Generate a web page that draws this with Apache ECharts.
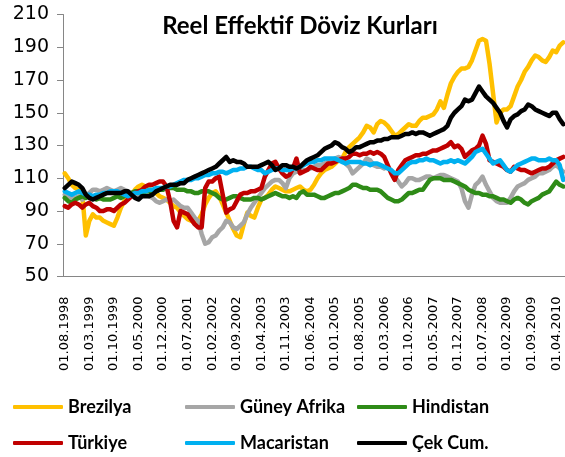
<!DOCTYPE html>
<html lang="tr">
  <head>
    <meta charset="UTF-8" />
    <title>Reel Effektif Döviz Kurları</title>
    <script src="https://cdn.jsdelivr.net/npm/echarts@6.0.0/dist/echarts.min.js"></script>
    <style>
      html, body { margin: 0; padding: 0; background: #fff; }
    </style>
  </head>

  <body>
    <div id="main" style="width: 565px; height: 457px"></div>

    <script type="text/javascript">
      // monthly series, 08.1998 - 06.2010
      const startYear = 1998;
      const startMonth = 8;

      const brezilya = [
        113,110,106,104,103,100,75,84,88,86,
        86,84,83,82,81,86,92,96,98,100,
        103,105,106,105,104,102,101,99,98,97,
        95,93,92,89,87,85,84,83,84,88,
        94,98,101,102,99,94,89,84,79,75,
        74,82,89,87,86,92,97,98,100,103,
        105,104,103,102,102,103,104,105,103,102,
        103,106,110,113,115,116,117,119,121,122,
        126,129,131,133,135,138,142,141,138,143,
        145,144,142,139,136,137,139,141,143,142,
        142,145,147,147,148,149,152,157,153,161,
        168,172,175,177,177,178,182,188,194,195,
        194,180,162,144,150,152,152,154,160,166,
        170,175,178,182,185,184,182,181,184,188,
        187,191,193
      ];
      const guneyAfrika = [
        100,99,98,98,99,97,99,101,103,103,
        102,103,104,103,102,103,104,103,102,101,
        101,100,101,100,99,98,96,95,96,97,
        96,97,95,93,92,92,89,86,84,76,
        70,71,74,75,78,80,84,83,80,79,
        81,83,88,92,95,98,101,104,106,108,
        109,109,107,104,110,113,114,114,115,115,
        116,117,118,118,119,120,121,122,123,122,
        119,117,113,115,117,119,122,121,118,117,
        117,116,117,114,111,108,105,107,110,110,
        109,109,110,111,111,110,111,112,112,111,
        110,109,108,104,96,92,100,106,108,111,
        106,102,98,96,95,95,95,98,102,105,
        106,107,109,110,111,113,113,114,115,117,
        118,116,114
      ];
      const hindistan = [
        98,96,95,97,98,99,98,99,98,97,
        98,97,97,97,98,99,98,99,100,101,
        102,102,101,102,102,101,102,103,103,104,
        104,104,103,103,103,102,102,101,101,102,
        102,102,101,100,98,97,97,98,99,99,
        98,97,97,97,98,98,97,98,99,100,
        101,100,99,99,98,99,98,101,102,100,
        100,100,99,98,98,99,100,101,101,102,
        103,104,106,106,105,104,104,103,103,103,
        102,100,98,97,96,96,97,99,101,101,
        102,103,103,106,109,110,110,110,109,109,
        109,108,107,106,105,103,102,101,101,100,
        100,99,99,98,97,97,96,95,97,98,
        97,95,94,96,97,98,100,101,102,105,
        108,106,105
      ];
      const turkiye = [
        93,92,94,95,94,92,94,95,93,92,
        90,90,91,91,90,92,94,95,97,99,
        101,102,103,105,106,106,107,108,108,105,
        96,84,80,90,89,88,85,82,80,80,
        104,108,108,110,111,100,89,91,92,96,
        100,101,101,102,102,103,104,111,115,119,
        120,116,113,111,112,116,122,113,114,115,
        117,116,115,115,117,119,119,120,121,122,
        122,123,125,125,124,125,125,126,125,126,
        125,123,118,113,109,115,118,121,122,123,
        124,124,125,125,126,127,127,128,129,130,
        132,129,130,128,123,125,127,128,130,136,
        131,121,120,119,118,117,115,114,117,116,
        115,115,114,113,114,115,116,116,117,119,
        121,122,123
      ];
      const macaristan = [
        102,101,100,101,102,101,100,100,99,100,
        100,101,101,102,102,102,101,100,99,100,
        101,101,102,102,103,103,104,104,104,105,
        105,106,107,108,109,109,109,110,110,111,
        112,112,113,113,114,114,113,114,115,115,
        116,116,117,117,116,115,115,113,114,115,
        116,116,115,115,115,116,116,117,118,119,
        120,120,121,121,122,122,122,122,121,120,
        119,120,120,120,120,119,119,118,119,119,
        118,117,116,115,113,113,115,117,119,120,
        120,121,121,122,121,121,120,119,120,120,
        121,120,121,120,119,121,123,126,127,128,
        125,122,119,120,121,118,115,114,116,118,
        119,120,121,122,122,121,121,121,122,121,
        121,118,109
      ];
      const cekCum = [
        104,106,108,107,106,104,100,98,97,98,
        99,100,101,101,101,101,101,102,102,100,
        98,97,99,99,99,100,102,103,104,105,
        106,106,106,107,107,109,110,111,112,113,
        114,115,116,117,119,121,123,120,121,120,
        120,119,117,117,117,117,118,119,120,118,
        115,116,118,118,117,117,116,117,119,121,
        122,123,124,126,128,129,130,132,131,129,
        128,126,127,129,129,130,131,132,132,133,
        133,134,134,135,135,135,136,137,137,138,
        137,138,138,137,136,137,138,139,140,142,
        147,150,152,154,158,157,158,162,166,163,
        160,158,156,153,150,145,141,146,148,149,
        151,152,155,154,152,151,150,149,148,150,
        150,146,143
      ];

      const seriesNames = ["Brezilya", "Güney Afrika", "Hindistan", "Türkiye", "Macaristan", "Çek Cum."];
      const seriesData = [brezilya, guneyAfrika, hindistan, turkiye, macaristan, cekCum];
      const colors = ["#FFC000", "#A6A6A6", "#2E8B17", "#C00000", "#00B0F0", "#000000"];

      // category labels like 01.08.1998
      const months = [];
      for (let i = 0; i < brezilya.length; i++) {
        const m = (startMonth - 1 + i) % 12 + 1;
        const y = startYear + Math.floor((startMonth - 1 + i) / 12);
        months.push("01." + String(m).padStart(2, "0") + "." + y);
      }

      let myChart = echarts.init(document.getElementById("main"));

      const legendCols = [13, 185, 357];
      const legendRows = [397, 433];
      const legends = seriesNames.map((name, i) => ({
        data: [name],
        left: legendCols[i % 3],
        top: legendRows[Math.floor(i / 3)],
        padding: 0,
        icon: "roundRect",
        itemWidth: 50,
        itemHeight: 4,
        textStyle: {
          fontFamily: "Lato",
          fontWeight: "bold",
          fontSize: 18,
          lineHeight: 20,
          color: "#000",
        },
      }));

      let options = {
        animation: false,
        color: colors,
        title: {
          text: "Reel Effektif Döviz Kurları",
          left: 300,
          top: 14,
          textAlign: "center",
          padding: 0,
          textStyle: {
            fontFamily: "Lato",
            fontWeight: "bold",
            fontSize: 24,
            color: "#000",
          },
        },
        legend: legends,
        grid: {
          left: 63,
          right: 0,
          top: 14.5,
          bottom: 180.5,
          outerBoundsMode: "none",
        },
        xAxis: {
          type: "category",
          data: months,
          boundaryGap: true,
          axisLine: { lineStyle: { color: "#868686", width: 1 } },
          axisTick: {
            interval: 6,
            length: 5,
            lineStyle: { color: "#868686" },
          },
          axisLabel: {
            interval: 6,
            rotate: 90,
            margin: 20,
            fontFamily: "DejaVu Sans",
            fontSize: 13,
            color: "#000",
          },
        },
        yAxis: {
          type: "value",
          min: 50,
          max: 210,
          interval: 20,
          splitLine: { show: false },
          axisLine: { show: true, lineStyle: { color: "#868686", width: 1 } },
          axisTick: { show: true, length: 6, lineStyle: { color: "#868686" } },
          axisLabel: {
            margin: 14,
            fontFamily: "DejaVu Sans",
            fontSize: 19,
            color: "#000",
          },
        },
        series: seriesNames.map((name, i) => ({
          name: name,
          type: "line",
          data: seriesData[i],
          symbol: "none",
          lineStyle: { width: 4.5, color: colors[i], cap: "round", join: "round" },
        })),
      };

      myChart.setOption(options);
    </script>
  </body>
</html>
